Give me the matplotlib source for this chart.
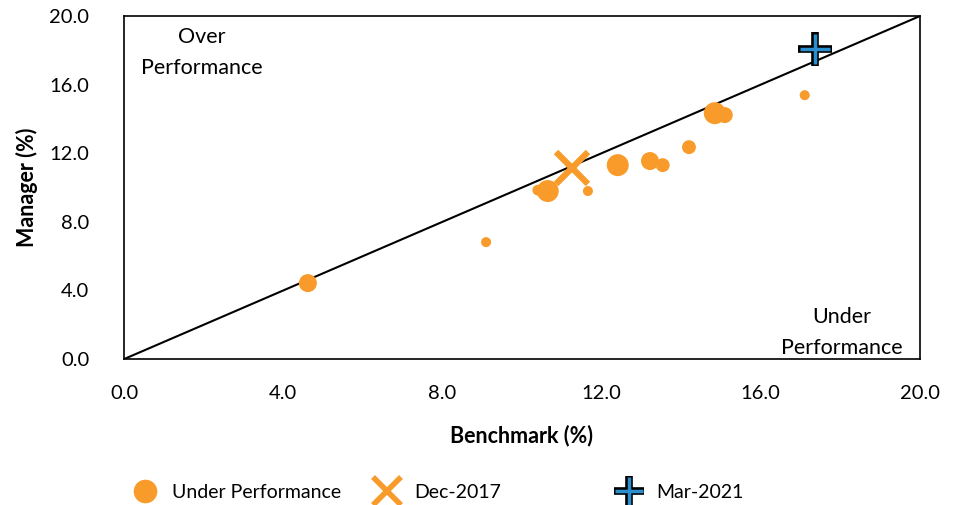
import matplotlib.pyplot as plt
from matplotlib.lines import Line2D
from matplotlib.legend_handler import HandlerTuple

plt.rcParams['font.family'] = ['Lato', 'DejaVu Sans']

# data
bench = [4.62, 9.10, 10.40, 10.65, 11.66, 12.41, 13.22, 13.54, 14.20, 14.85, 15.10, 17.11]
manager = [4.43, 6.82, 9.85, 9.80, 9.80, 11.31, 11.55, 11.31, 12.36, 14.34, 14.23, 15.39]
sizes = [168, 52, 60, 250, 52, 250, 168, 100, 100, 250, 133, 52]
dec2017 = (11.26, 11.14)
mar2021 = (17.36, 18.08)
ticks = [0, 4, 8, 12, 16, 20]

ORANGE = '#F99B2A'
BLUE = '#2B8FCF'

fig = plt.figure(figsize=(9.62, 5.05), dpi=100)
ax = fig.add_axes([0.129, 0.289, 0.827, 0.679])

ax.plot([0, 20], [0, 20], color='black', lw=1.5, zorder=2)
ax.scatter(bench, manager, s=sizes, color=ORANGE, edgecolor='none', zorder=3)
ax.plot(*dec2017, marker='x', ms=23, mew=4.5, color=ORANGE, ls='none', zorder=4)
ax.plot(*mar2021, marker='+', ms=24, mew=5.5, color='black', ls='none', zorder=5)
ax.plot(*mar2021, marker='+', ms=22, mew=2.5, color=BLUE, ls='none', zorder=6)

ax.set_xlim(0, 20)
ax.set_ylim(0, 20)
ax.set_xticks(ticks)
ax.set_yticks(ticks)
ax.set_xticklabels([f"{t:.1f}" for t in ticks])
ax.set_yticklabels([f"{t:.1f}" for t in ticks])
ax.tick_params(length=0, labelsize=14.5)
ax.tick_params(axis='x', pad=19)
ax.tick_params(axis='y', pad=25)
for s in ax.spines.values():
    s.set_linewidth(1.2)

ax.set_xlabel('Benchmark (%)', fontsize=15.5, fontweight='bold', labelpad=16)
ax.set_ylabel('Manager (%)', fontsize=15.5, fontweight='bold', labelpad=8)

ax.text(1.95, 17.9, 'Over\nPerformance', ha='center', va='center', fontsize=15.5,
        linespacing=1.7)
ax.text(18.04, 1.57, 'Under\nPerformance', ha='center', va='center', fontsize=15.5,
        linespacing=1.7)

# legend, three fixed slots
h1 = Line2D([], [], marker='o', ms=16, color=ORANGE, ls='none')
h2 = Line2D([], [], marker='x', ms=20, mew=4, color=ORANGE, ls='none')
h3a = Line2D([], [], marker='+', ms=22, mew=5.5, color='black', ls='none')
h3b = Line2D([], [], marker='+', ms=20, mew=2.5, color=BLUE, ls='none')

slots = [(h1, 'Under Performance', 0.130),
         (h2, 'Dec-2017', 0.382),
         ((h3a, h3b), 'Mar-2021', 0.634)]
for h, lab, x in slots:
    fig.legend([h], [lab], loc='center left', bbox_to_anchor=(x, 0.025),
               frameon=False, fontsize=14, handlelength=1.2,
               handletextpad=0.8, borderaxespad=0,
               handler_map={tuple: HandlerTuple(ndivide=1, pad=0)})

fig.savefig('out.png', dpi=100)
